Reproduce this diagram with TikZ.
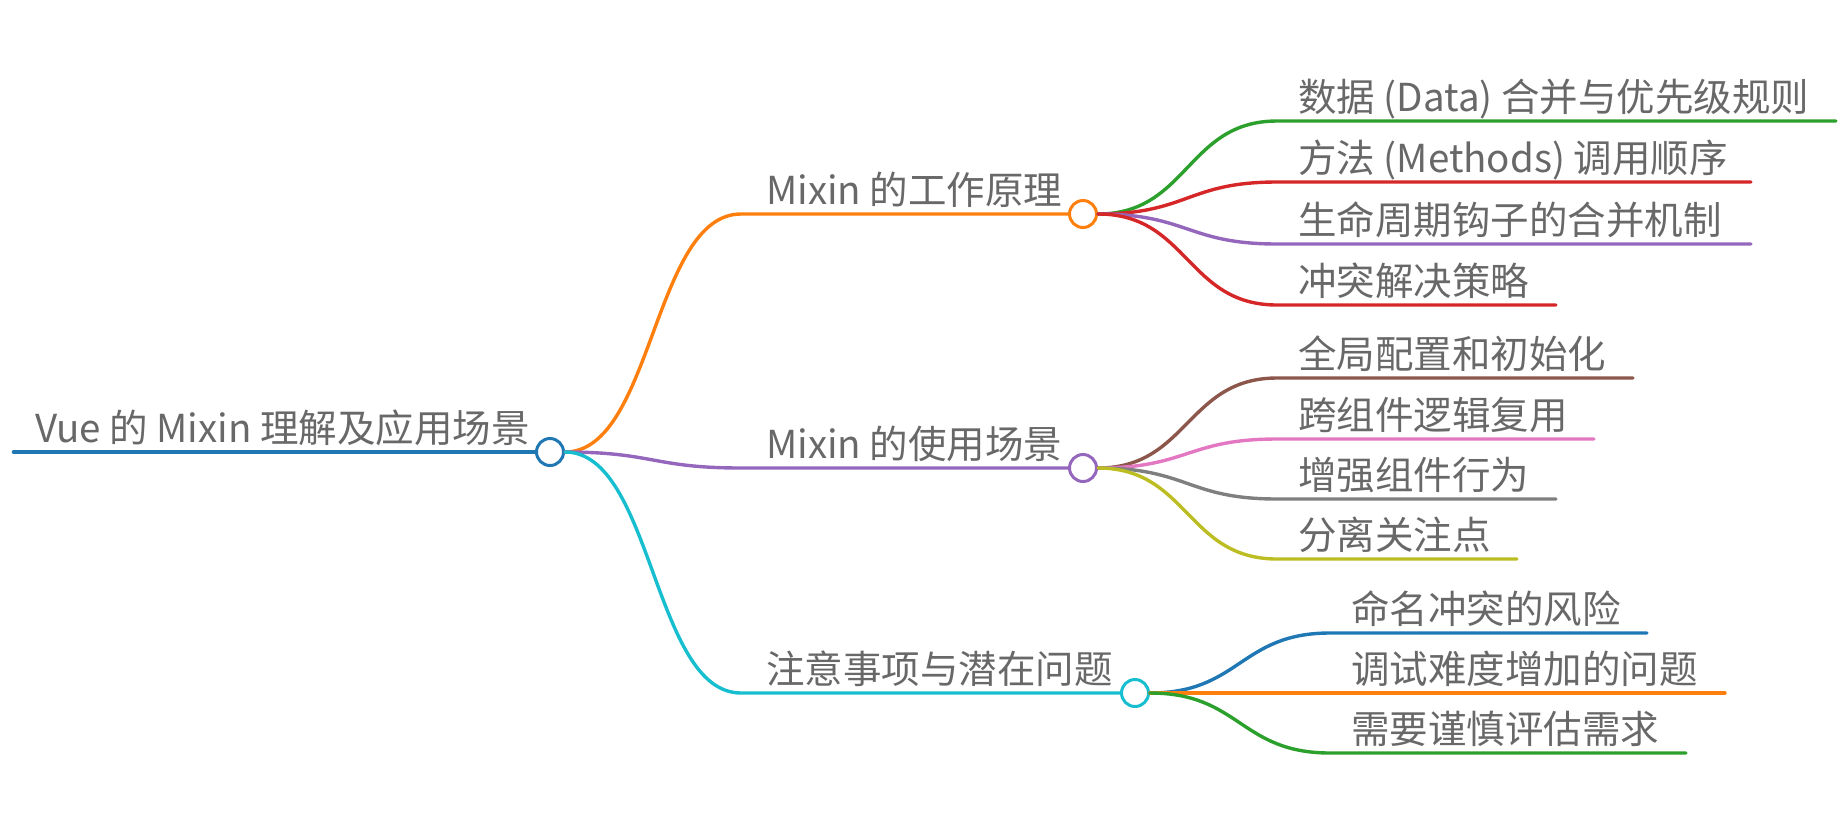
\documentclass[tikz,border=0pt]{standalone}
\usepackage{fontspec}
\setmainfont{Noto Sans CJK SC}
\usetikzlibrary{positioning}
\definecolor{mmblue}{HTML}{1F77B4}
\definecolor{mmorange}{HTML}{FF7F0E}
\definecolor{mmgreen}{HTML}{2CA02C}
\definecolor{mmred}{HTML}{D62728}
\definecolor{mmpurple}{HTML}{9467BD}
\definecolor{mmbrown}{HTML}{8C564B}
\definecolor{mmpink}{HTML}{E377C2}
\definecolor{mmgray}{HTML}{7F7F7F}
\definecolor{mmolive}{HTML}{BCBD22}
\definecolor{mmcyan}{HTML}{17BECF}
\definecolor{textgray}{HTML}{686868}
\tikzset{
  knob/.style={circle, draw, fill=white, line width=3pt, minimum size=27pt, inner sep=0pt},
  topic/.style={anchor=base west, inner sep=0pt, text=textgray, font=\fontsize{38.5}{42}\selectfont},
  wire/.style={line width=3.4pt, line cap=round}
}

\begin{document}
\begin{tikzpicture}[x=1pt, y=-1pt]
  \useasboundingbox (0,0) rectangle (1845,823);

  % Knobs
  \node[knob, draw=mmblue] (root) at (550,452) {};
  \node[knob, draw=mmorange] (work) at (1083,214) {};
  \node[knob, draw=mmpurple] (use) at (1083,468) {};
  \node[knob, draw=mmcyan] (care) at (1135,693) {};

  % Root
  \coordinate (rootL) at (14,452);
  \draw[wire, line width=4.6pt, mmblue] (rootL) -- (root.west);
  \node[topic] (rootT) at (35,442) {Vue 的 Mixin 理解及应用场景};

  % Main branches
  \coordinate (workL) at (741,214);
  \coordinate (useL) at (741,468);
  \coordinate (careL) at (741,693);
  \draw[wire, mmorange] (root.east) .. controls +(88,0) and +(-88,0) .. (workL) -- (work.west);
  \draw[wire, mmpurple] (root.east) .. controls +(88,0) and +(-88,0) .. (useL) -- (use.west);
  \draw[wire, mmcyan] (root.east) .. controls +(88,0) and +(-88,0) .. (careL) -- (care.west);
  \node[topic] (workT) at (766,204) {Mixin 的工作原理};
  \node[topic] (useT) at (766,458) {Mixin 的使用场景};
  \node[topic] (careT) at (766,683) {注意事项与潜在问题};

  % Leaves of work
  \coordinate (w1a) at (1277,121); \coordinate (w1b) at (1836,121);
  \coordinate (w2a) at (1277,182); \coordinate (w2b) at (1751,182);
  \coordinate (w3a) at (1277,244); \coordinate (w3b) at (1751,244);
  \coordinate (w4a) at (1277,305); \coordinate (w4b) at (1556,305);
  \draw[wire, mmgreen] (work.east) .. controls +(90,0) and +(-90,0) .. (w1a) -- (w1b);
  \draw[wire, mmred] (work.east) .. controls +(90,0) and +(-90,0) .. (w2a) -- (w2b);
  \draw[wire, mmpurple] (work.east) .. controls +(90,0) and +(-90,0) .. (w3a) -- (w3b);
  \draw[wire, mmred] (work.east) .. controls +(90,0) and +(-90,0) .. (w4a) -- (w4b);
  \node[topic] (w1) at (1298,111) {数据 (Data) 合并与优先级规则};
  \node[topic] (w2) at (1298,172) {方法 (Methods) 调用顺序};
  \node[topic] (w3) at (1298,234) {生命周期钩子的合并机制};
  \node[topic] (w4) at (1298,295) {冲突解决策略};

  % Leaves of use
  \coordinate (u1a) at (1277,378); \coordinate (u1b) at (1633,378);
  \coordinate (u2a) at (1277,439); \coordinate (u2b) at (1594,439);
  \coordinate (u3a) at (1277,499); \coordinate (u3b) at (1556,499);
  \coordinate (u4a) at (1277,559); \coordinate (u4b) at (1517,559);
  \draw[wire, mmbrown] (use.east) .. controls +(90,0) and +(-90,0) .. (u1a) -- (u1b);
  \draw[wire, mmpink] (use.east) .. controls +(90,0) and +(-90,0) .. (u2a) -- (u2b);
  \draw[wire, mmgray] (use.east) .. controls +(90,0) and +(-90,0) .. (u3a) -- (u3b);
  \draw[wire, mmolive] (use.east) .. controls +(90,0) and +(-90,0) .. (u4a) -- (u4b);
  \node[topic] (u1) at (1298,368) {全局配置和初始化};
  \node[topic] (u2) at (1298,429) {跨组件逻辑复用};
  \node[topic] (u3) at (1298,489) {增强组件行为};
  \node[topic] (u4) at (1298,549) {分离关注点};

  % Leaves of care
  \coordinate (c1a) at (1330,633); \coordinate (c1b) at (1647,633);
  \coordinate (c2a) at (1330,693); \coordinate (c2b) at (1725,693);
  \coordinate (c3a) at (1330,753); \coordinate (c3b) at (1686,753);
  \draw[wire, mmblue] (care.east) .. controls +(90,0) and +(-90,0) .. (c1a) -- (c1b);
  \draw[wire, mmorange] (care.east) -- (c2a) -- (c2b);
  \draw[wire, mmgreen] (care.east) .. controls +(90,0) and +(-90,0) .. (c3a) -- (c3b);
  \node[topic] (c1) at (1351,623) {命名冲突的风险};
  \node[topic] (c2) at (1351,683) {调试难度增加的问题};
  \node[topic] (c3) at (1351,743) {需要谨慎评估需求};
\end{tikzpicture}
\end{document}
